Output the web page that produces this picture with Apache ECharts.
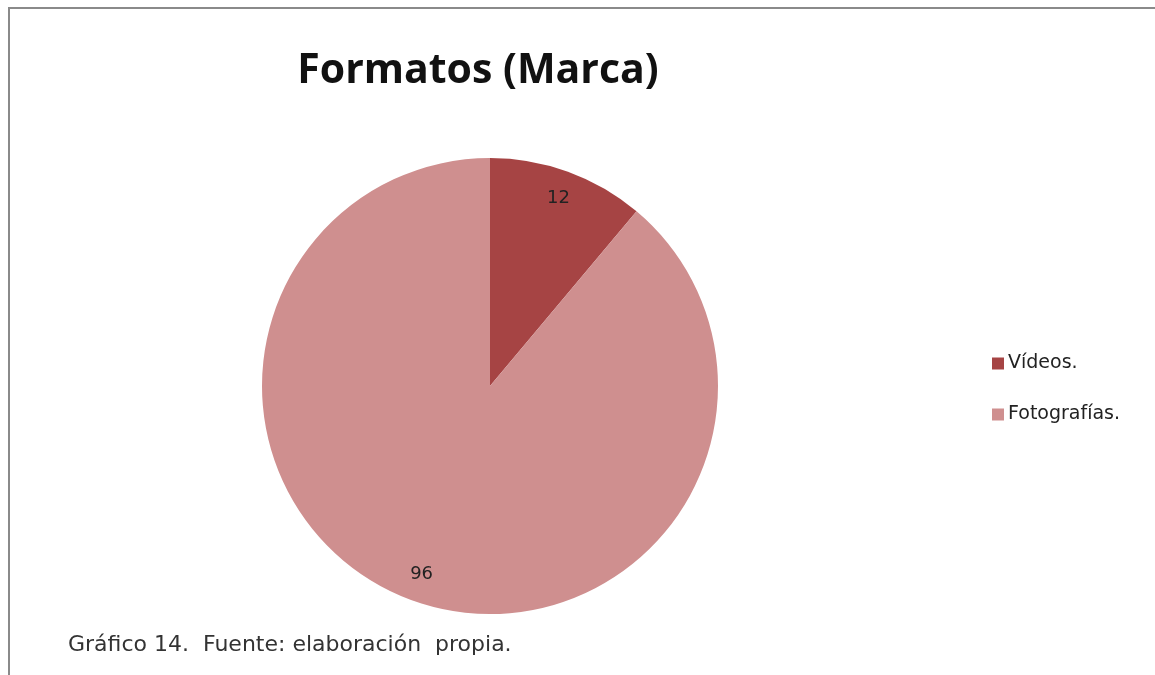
<!DOCTYPE html>
<html>
<head>
<meta charset="utf-8">
<script src="https://cdn.jsdelivr.net/npm/echarts@6/dist/echarts.min.js"></script>
<style>
  html, body { margin: 0; padding: 0; background: #fff; }
  #frame {
    position: absolute; left: 8px; top: 7px; width: 1147px; height: 668px;
    border-top: 2px solid #8a8a8a; border-left: 2px solid #8a8a8a;
  }
  #chart { position: absolute; left: 0; top: 0; width: 1155px; height: 675px; }
</style>
</head>
<body>
<div id="frame"></div>
<div id="chart"></div>
<script>
const categories = ['Vídeos.', 'Fotografías.']
const values = [12, 96]
const colors = ['#a64444', '#cf8f8f']

const pieData = categories.map((name, i) => ({
  name,
  value: values[i],
  itemStyle: { color: colors[i] }
}))

const chart = echarts.init(document.getElementById('chart'))

const option = {
  animation: false,
  title: {
    text: 'Formatos (Marca)',
    left: 473,
    top: 46,
    textAlign: 'center',
    textStyle: {
      fontFamily: 'Open Sans',
      fontSize: 41,
      fontWeight: 'bold',
      color: '#111'
    }
  },
  legend: {
    orient: 'vertical',
    left: 987,
    top: 349,
    itemWidth: 12,
    itemHeight: 12,
    itemGap: 32,
    icon: 'rect',
    data: categories,
    textStyle: { fontFamily: 'DejaVu Sans', fontSize: 19, color: '#222', padding: [0, 0, 0, -1] }
  },
  graphic: [
    {
      type: 'text',
      left: 68,
      top: 634,
      style: {
        text: 'Gráfico 14.  Fuente: elaboración  propia.',
        fontFamily: 'DejaVu Sans',
        fontSize: 22,
        fill: '#333'
      }
    }
  ],
  series: [
    {
      type: 'pie',
      center: [490, 386],
      radius: [0, 228],
      startAngle: 90,
      clockwise: true,
      label: { show: false },
      labelLine: { show: false },
      emphasis: { disabled: true },
      data: pieData
    },
    {
      // transparent ring used only to place the value labels near the rim
      type: 'pie',
      center: [490, 386],
      radius: [166, 228],
      startAngle: 90,
      clockwise: true,
      silent: true,
      legendHoverLink: false,
      itemStyle: { color: 'rgba(0,0,0,0)' },
      label: {
        show: true,
        position: 'inside',
        formatter: '{c}',
        fontFamily: 'DejaVu Sans',
        fontSize: 18,
        color: '#222'
      },
      labelLine: { show: false },
      emphasis: { disabled: true },
      data: categories.map((name, i) => ({ name: name + ' ', value: values[i] }))
    }
  ]
}

chart.setOption(option)
</script>
</body>
</html>
